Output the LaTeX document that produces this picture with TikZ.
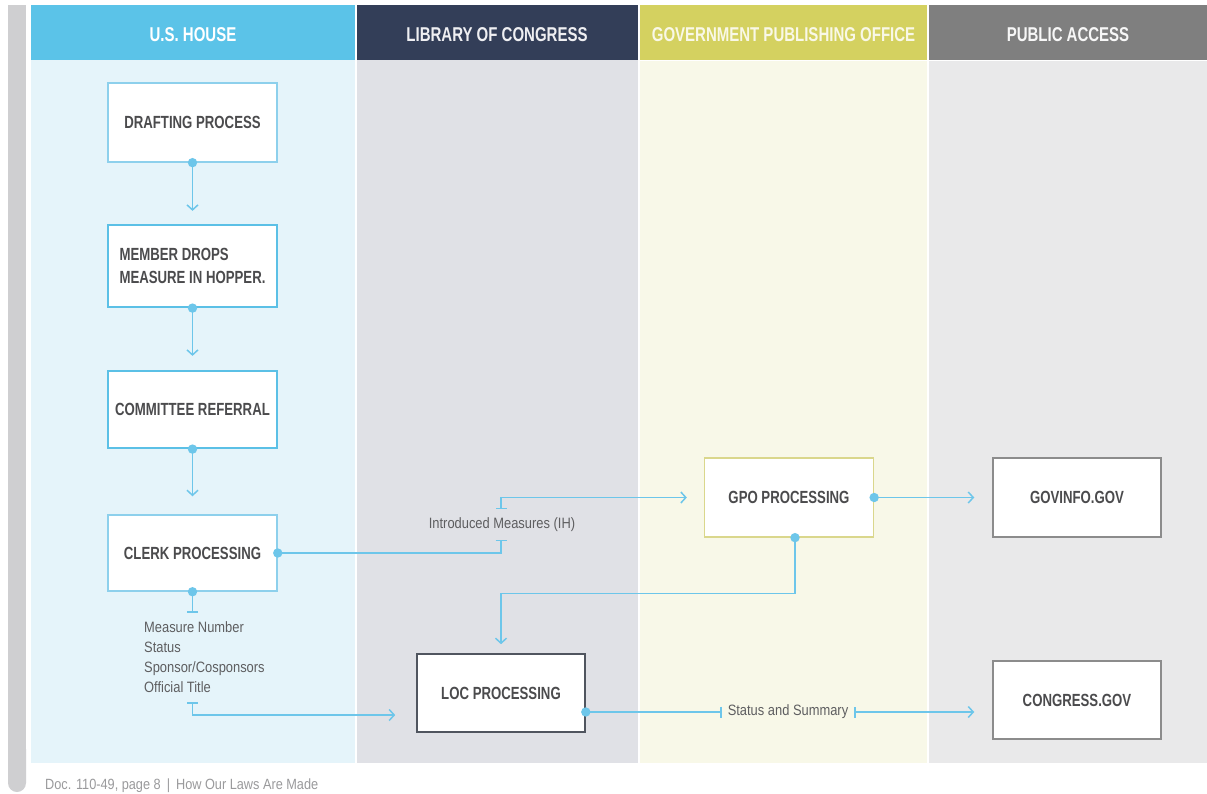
\documentclass[tikz,border=0pt]{standalone}
\usepackage{fontspec}
\setmainfont{Liberation Sans}
\newfontfamily\condfont[FakeStretch=0.75]{Liberation Sans}
\newfontfamily\headfont[FakeStretch=0.75]{Liberation Sans}
\newfontfamily\smallfont[FakeStretch=0.86]{Liberation Sans}
\newfontfamily\footfont[FakeStretch=0.86]{Liberation Sans}
\usetikzlibrary{arrows.meta}
\definecolor{houseHead}{HTML}{5BC3E8}
\definecolor{houseBody}{HTML}{E5F4FA}
\definecolor{locHead}{HTML}{333E58}
\definecolor{locBody}{HTML}{E0E1E6}
\definecolor{gpoHead}{HTML}{D4D160}
\definecolor{gpoBody}{HTML}{F8F8E8}
\definecolor{pubHead}{HTML}{7F7F7F}
\definecolor{pubBody}{HTML}{E9E9EA}
\definecolor{connblue}{HTML}{6DC6EA}
\definecolor{boxtext}{HTML}{4B4B4D}
\definecolor{smalltext}{HTML}{5E5E60}
\definecolor{leftbar}{HTML}{CFCFD1}
\definecolor{footgrey}{HTML}{9A9A9C}
\definecolor{lightblueborder}{HTML}{8DD0EC}
\definecolor{strongblueborder}{HTML}{5BC0E6}
\definecolor{gpoborder}{HTML}{DAD78C}
\definecolor{locborder}{HTML}{50555F}
\definecolor{pubborder}{HTML}{8C8C8C}
\tikzset{
  tbar/.tip={Bar[width=11pt]},
  >={Straight Barb[length=5pt,width=11pt]},
  box/.style={fill=white, minimum width=169pt, minimum height=79pt, inner sep=0pt,
    font=\condfont\bfseries\fontsize{17.6}{23}\selectfont, text=boxtext, align=center},
  conn/.style={draw=connblue, line width=1.5pt},
  headtxt/.style={font=\headfont\bfseries\fontsize{20}{22}\selectfont, anchor=center},
  smalltxt/.style={font=\smallfont\fontsize{15}{20}\selectfont, text=smalltext},
}
\begin{document}
\begin{tikzpicture}[x=1pt,y=-1pt]
\useasboundingbox (0,0) rectangle (1207,794);
\fill[white] (0,0) rectangle (1207,794);
% left bar
\fill[leftbar] (8,5) rectangle (26,770);
\fill[leftbar, rounded corners=9pt] (8,740) rectangle (26,792);
% column bodies
\fill[houseBody] (31,60) rectangle (355,763);
\fill[locBody] (357,60) rectangle (638,763);
\fill[gpoBody] (640,61) rectangle (927,763);
\fill[pubBody] (929,61) rectangle (1207,763);
% headers
\fill[houseHead] (31,5) rectangle (355,60);
\fill[locHead] (357,5) rectangle (638,60);
\fill[gpoHead] (640,5) rectangle (927,60);
\fill[pubHead] (929,5) rectangle (1207,60);
\node[headtxt, text=white] (h1) at (193,35) {U.S. HOUSE};
\node[headtxt, text=white!92!locHead] (h2) at (497,35) {LIBRARY OF CONGRESS};
\node[headtxt, text=white!85!gpoHead] (h3) at (783.5,35) {GOVERNMENT PUBLISHING OFFICE};
\node[headtxt, text=white!94!pubHead] (h4) at (1068,35) {PUBLIC ACCESS};
% boxes
\node[box, draw=lightblueborder, line width=1.3pt] (draft) at (192.5,122.5) {DRAFTING PROCESS};
\node[box, draw=strongblueborder, line width=2.2pt, minimum height=82pt, align=left] (member) at (192.5,266) {MEMBER DROPS\\MEASURE IN HOPPER.};
\node[box, draw=strongblueborder, line width=2.2pt, minimum height=77pt] (committee) at (192.5,409.5) {COMMITTEE REFERRAL};
\node[box, draw=lightblueborder, line width=1.5pt, minimum height=76pt] (clerk) at (192.5,553) {CLERK PROCESSING};
\node[box, draw=gpoborder, line width=1.3pt] (gpo) at (789,497.5) {GPO PROCESSING};
\node[box, draw=locborder, line width=1.6pt, minimum height=78pt, minimum width=168pt] (loc) at (501,693) {LOC PROCESSING};
\node[box, draw=pubborder, line width=1.5pt, minimum width=168pt] (govinfo) at (1077,497.5) {GOVINFO.GOV};
\node[box, draw=pubborder, line width=1.5pt, minimum width=168pt, minimum height=78pt] (congress) at (1077,700) {CONGRESS.GOV};
% labels
\node[smalltxt, minimum height=30pt, inner ysep=0pt] (intro) at (502,524.5) {Introduced Measures (IH)};
\node[smalltxt, align=left, anchor=west, minimum height=89pt, inner ysep=0pt, inner xsep=0pt] (info) at (144,657.5) {Measure Number\\Status\\Sponsor/Cosponsors\\Official Title};
\node[smalltxt, inner xsep=6pt] (status) at (788,712) {Status and Summary};
% footer
\node[font=\footfont\fontsize{14.8}{16}\selectfont, text=footgrey, anchor=base west, inner sep=0pt] (foot) at (45,789) {Doc. 110-49, page 8 \,|\, How Our Laws Are Made};
% connectors
\draw[conn,->,shorten >=13pt] (draft.south) -- (member.north);
\draw[conn,->,shorten >=14pt] (member.south) -- (committee.north);
\draw[conn,->,shorten >=18pt] (committee.south) -- (clerk.north);
\draw[conn,-tbar] (clerk.east) -| ([xshift=-1pt]intro.south);
\draw[conn,tbar->,shorten >=17pt] ([xshift=-1pt]intro.north) |- (gpo.west);
\draw[conn,-tbar] (clerk.south) -- (clerk.south |- info.north);
\draw[conn,tbar->,shorten >=21pt] (clerk.south |- info.south) |- ([yshift=-22pt]loc.west);
\draw[conn,->,shorten >=9pt] ([xshift=6pt]gpo.south) -- ++(0,-56pt) -| (loc.north);
\draw[conn,->,shorten >=18pt] (gpo.east) -- (govinfo.west);
\draw[conn,-tbar] ([yshift=-19pt]loc.east) -- (status.west);
\draw[conn,tbar->,shorten >=18pt] (status.east) -- (status.east -| congress.west);
% dots
\foreach \p in {draft.south, member.south, committee.south, clerk.south, clerk.east, gpo.east}
  \fill[connblue] (\p) circle (4.7pt);
\fill[connblue] ([xshift=6pt]gpo.south) circle (4.7pt);
\fill[connblue] ([yshift=-19pt]loc.east) circle (4.7pt);
\end{tikzpicture}
\end{document}
